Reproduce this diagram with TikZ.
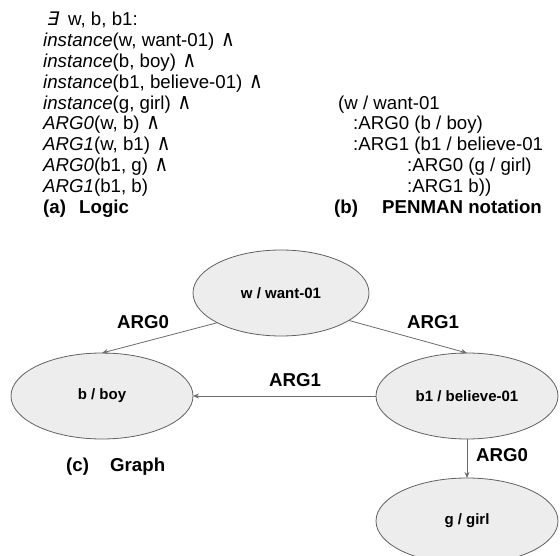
\documentclass[tikz,border=0pt]{standalone}
\usepackage{fontspec}
\setmainfont{Liberation Sans}
\newfontfamily\logicsym{DejaVu Sans}
\newfontfamily\existsym[FakeSlant=0.2]{DejaVu Sans}
\usetikzlibrary{shapes.geometric,arrows.meta}

\newcommand{\andsym}{\hspace{1.5pt}{\logicsym\upshape\scalebox{1}[1.2]{∧}}}

\tikzset{
  concept/.style={ellipse, draw=black!62, fill=black!7, line width=0.8pt,
    minimum width=182pt, minimum height=86pt, inner sep=0pt, outer sep=0pt,
    font=\fontsize{15}{18}\selectfont\bfseries},
  rel/.style={draw=black!58, line width=0.8pt, -{Stealth[length=6pt,width=5pt]}},
  rellabel/.style={font=\fontsize{18.67}{21}\selectfont\bfseries},
  textline/.style={anchor=base west, inner sep=0pt, font=\fontsize{18.67}{21}\selectfont},
  captionline/.style={textline, font=\fontsize{18.67}{21}\selectfont\bfseries},
}

\begin{document}
\begin{tikzpicture}[x=1pt, y=-1pt]
\useasboundingbox (0,0) rectangle (560,556);
\clip (0,0) rectangle (560,556);

% (a) logic
\node[textline] (L1) at (46,25.5) {{\existsym ∃}\hspace{5pt} w, b, b1:};
\node[textline] (L2) at (43,46.4) {\textit{instance}(w, want-01) \andsym};
\node[textline] (L3) at (43,67.3) {\textit{instance}(b, boy) \andsym};
\node[textline] (L4) at (43,88.2) {\textit{instance}(b1, believe-01) \andsym};
\node[textline] (L5) at (43,109.1) {\textit{instance}(g, girl) \andsym};
\node[textline] (L6) at (43,130) {\textit{ARG0}(w, b) \andsym};
\node[textline] (L7) at (43,150.9) {\textit{ARG1}(w, b1) \andsym};
\node[textline] (L8) at (43,171.8) {\textit{ARG0}(b1, g) \andsym};
\node[textline] (L9) at (43,192.7) {\textit{ARG1}(b1, b)};
\node[captionline] (capA) at (43,213.6) {(a)};
\node[captionline] (capAtxt) at (79,213.6) {Logic};

% (b) penman
\node[textline] (P1) at (338,109.1) {(w / want-01};
\node[textline] (P2) at (353,130) {:ARG0 (b / boy)};
\node[textline] (P3) at (353,150.9) {:ARG1 (b1 / believe-01};
\node[textline] (P4) at (407,171.8) {:ARG0 (g / girl)};
\node[textline] (P5) at (407,192.7) {:ARG1 b))};
\node[captionline] (capB) at (334,213.6) {(b)};
\node[captionline] (capBtxt) at (382,213.6) {PENMAN notation};

% (c) graph
\node[concept, minimum width=176pt] (want) at (281,293) {w / want-01};
\node[concept] (boy) at (102,396) {b / boy};
\node[concept] (believe) at (467,396) {b1 / believe-01};
\node[concept] (girl) at (467,521) {g / girl};

\foreach \from/\to in {want.205/boy.north, want.-22/believe.north,
  believe.west/boy.east, believe.south/girl.north}
  \draw[rel] (\from) -- (\to);

\node[rellabel] (lbWB) at (143,322) {ARG0};
\node[rellabel] (lbWBe) at (433,322) {ARG1};
\node[rellabel] (lbBeB) at (295,380) {ARG1};
\node[rellabel] (lbBeG) at (502,455) {ARG0};

\node[captionline] (capC) at (66,471) {(c)};
\node[captionline] (capCtxt) at (110,471) {Graph};
\end{tikzpicture}
\end{document}
